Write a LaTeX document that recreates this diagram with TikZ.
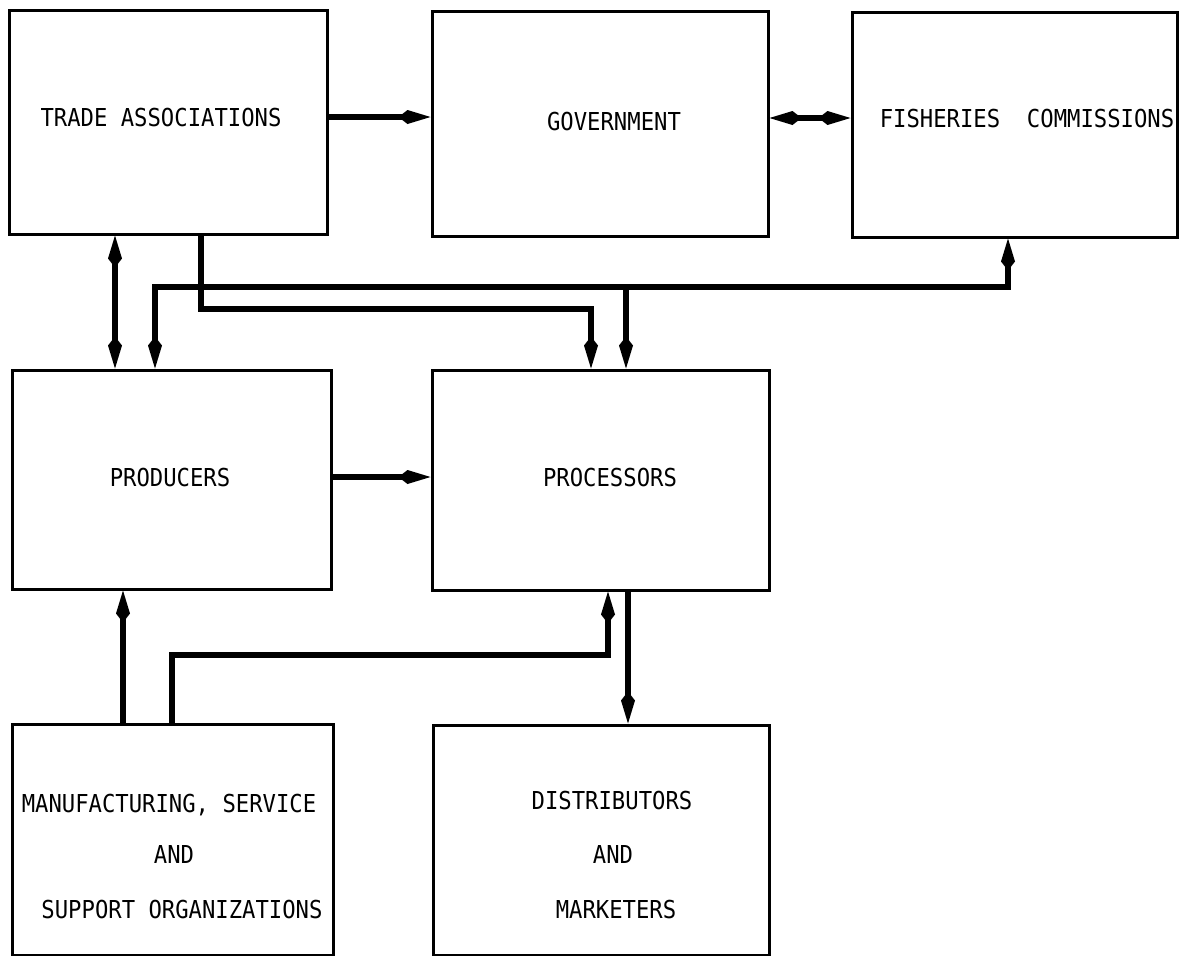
\documentclass[tikz,border=0pt]{standalone}
\usepackage{fontspec}
\usetikzlibrary{arrows.meta}
\newfontfamily\labelfont[FakeStretch=0.9]{DejaVu Sans Mono}
\begin{document}
\begin{tikzpicture}[x=1pt,y=-1pt,
  box/.style={draw=black,line width=3pt,rectangle,inner sep=0pt,fill=none},
  lbl/.style={inner sep=0pt,font=\labelfont\fontsize{24.7}{30}\selectfont,text height=18pt,text depth=0pt},
  conn/.style={line width=6pt,line join=miter},
  arr/.style={conn,-{Kite[length=32pt,width=14pt,inset=9pt,line width=0pt]}},
  dbl/.style={conn,{Kite[length=32pt,width=14pt,inset=9pt,line width=0pt]}-{Kite[length=32pt,width=14pt,inset=9pt,line width=0pt]}}
]
\fill[white] (0,0) rectangle (1184,956);
\useasboundingbox (0,0) rectangle (1184,956);

% boxes
\node[box,minimum width=318pt,minimum height=224pt] (ta)   at (168,122)   {};
\node[box,minimum width=336pt,minimum height=225pt] (gov)  at (600,123.5) {};
\node[box,minimum width=325pt,minimum height=225pt] (fc)   at (1014.5,124.5) {};
\node[box,minimum width=319pt,minimum height=219pt] (prod) at (171.5,479.5) {};
\node[box,minimum width=337pt,minimum height=220pt] (proc) at (600.5,480) {};
\node[box,minimum width=321pt,minimum height=231pt] (mfg)  at (172.5,839.5) {};
\node[box,minimum width=336pt,minimum height=230pt] (dist) at (601,840) {};

% labels
\node[lbl] (taL)   at (161,117)  {TRADE ASSOCIATIONS};
\node[lbl] (govL)  at (614,121)  {GOVERNMENT};
\node[lbl] (fcL)   at (1027,118) {FISHERIES\ \ COMMISSIONS};
\node[lbl] (prodL) at (170,477)  {PRODUCERS};
\node[lbl] (procL) at (610,477)  {PROCESSORS};
\node[lbl] (mfgA)  at (169,803)  {MANUFACTURING, SERVICE};
\node[lbl] (mfgB)  at (174,854)  {AND};
\node[lbl] (mfgC)  at (182,909)  {SUPPORT ORGANIZATIONS};
\node[lbl] (distA) at (612,800)  {DISTRIBUTORS};
\node[lbl] (distB) at (613,854)  {AND};
\node[lbl] (distC) at (616,909)  {MARKETERS};

% guide coordinates for connector rows and columns
\coordinate (rTop)  at (0,117);
\coordinate (rGov)  at (0,118);
\coordinate (rMid)  at (0,477);
\coordinate (hA)    at (0,287);
\coordinate (hB)    at (0,309);
\coordinate (hC)    at (0,655);
\coordinate (cTP)   at (115,0);
\coordinate (cTD)   at (201,0);
\coordinate (cPL)   at (155,0);
\coordinate (cPa)   at (591,0);
\coordinate (cPb)   at (626,0);
\coordinate (cFC)   at (1008,0);
\coordinate (cMP)   at (123,0);
\coordinate (cMQ)   at (172,0);
\coordinate (cQU)   at (608,0);
\coordinate (cQD)   at (628,0);

% top row
\draw[arr] (ta.east |- rTop) -- (gov.west |- rTop);
\draw[dbl] (gov.east |- rGov) -- (fc.west |- rGov);

% trade associations <-> producers
\draw[dbl] (ta.south -| cTP) -- (prod.north -| cTP);

% trade associations -> processors
\draw[arr] (ta.south -| cTD) -- (cTD |- hB) -- (cPa |- hB) -- (proc.north -| cPa);

% producers <- bus -> fisheries commissions, with a branch to processors
\draw[dbl] (prod.north -| cPL) -- (cPL |- hA) -- (cFC |- hA) -- (fc.south -| cFC);
\draw[arr] (cPb |- hA) -- (proc.north -| cPb);

% middle row
\draw[arr] (prod.east |- rMid) -- (proc.west |- rMid);

% support organizations -> producers and processors
\draw[arr] (mfg.north -| cMP) -- (prod.south -| cMP);
\draw[arr] (mfg.north -| cMQ) -- (cMQ |- hC) -- (cQU |- hC) -- (proc.south -| cQU);

% processors -> distributors
\draw[arr] (proc.south -| cQD) -- (dist.north -| cQD);
\end{tikzpicture}
\end{document}
